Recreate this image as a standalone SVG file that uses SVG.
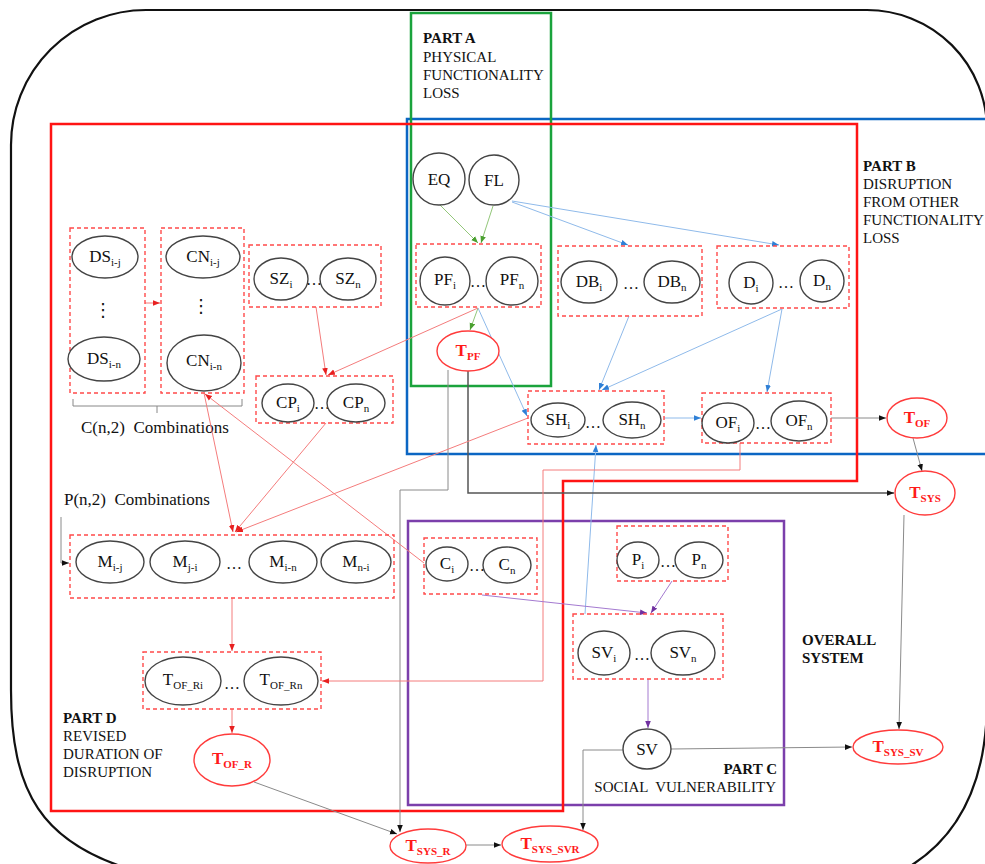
<svg xmlns="http://www.w3.org/2000/svg" width="985" height="864" viewBox="0 0 985 864">
<style>
.frame{fill:none;stroke-width:2.5}
.box{fill:none;stroke:#ff4a4a;stroke-width:1.4;stroke-dasharray:4 3}
.el{fill:#fff;stroke:#444;stroke-width:1.4}
.rel{fill:#fff;stroke:#ff3b3b;stroke-width:1.4}
.lbl{font-family:"Liberation Serif","Times New Roman",serif;font-size:17px;fill:#111;text-anchor:middle}
.rl{font-family:"Liberation Serif","Times New Roman",serif;font-size:17px;fill:#ff1a1a;font-weight:bold;text-anchor:middle}
.sub{font-size:11px}
.dots{font-family:"Liberation Serif",serif;font-size:16px;fill:#111;text-anchor:middle}
.vd{font-family:"DejaVu Sans",sans-serif;font-size:18px;fill:#111;text-anchor:middle}
.part{font-family:"Liberation Serif","Times New Roman",serif;font-size:15px;fill:#111}
.b{font-weight:bold}
.cr{fill:none;stroke:#f47c7c;stroke-width:1}
.cb{fill:none;stroke:#8fbaea;stroke-width:1}
.cg{fill:none;stroke:#93c77a;stroke-width:1}
.cp{fill:none;stroke:#a47ad0;stroke-width:1}
.ck{fill:none;stroke:#8a8a8a;stroke-width:1}
.cd{fill:none;stroke:#555;stroke-width:1.5}
</style>
<defs>
<marker id="aR" viewBox="0 0 10 10" refX="10" refY="5" markerWidth="7" markerHeight="7" orient="auto" markerUnits="userSpaceOnUse"><path d="M0,1 L10,5 L0,9 z" fill="#e82020"/></marker>
<marker id="aB" viewBox="0 0 10 10" refX="10" refY="5" markerWidth="7" markerHeight="7" orient="auto" markerUnits="userSpaceOnUse"><path d="M0,1 L10,5 L0,9 z" fill="#2f80d6"/></marker>
<marker id="aG" viewBox="0 0 10 10" refX="10" refY="5" markerWidth="7" markerHeight="7" orient="auto" markerUnits="userSpaceOnUse"><path d="M0,1 L10,5 L0,9 z" fill="#4aa030"/></marker>
<marker id="aP" viewBox="0 0 10 10" refX="10" refY="5" markerWidth="7" markerHeight="7" orient="auto" markerUnits="userSpaceOnUse"><path d="M0,1 L10,5 L0,9 z" fill="#7030a0"/></marker>
<marker id="aK" viewBox="0 0 10 10" refX="10" refY="5" markerWidth="7" markerHeight="7" orient="auto" markerUnits="userSpaceOnUse"><path d="M0,1 L10,5 L0,9 z" fill="#111"/></marker>
</defs>
<rect width="985" height="864" fill="#fff"/>

<!-- outer overall system frame -->
<path id="outer" d="M11,690 L11,145 A135,135 0 0 1 146,10 L867,10 A120,120 0 0 1 987,130 L987,700 C987,780 960,840 900,872 L140,872 C40,845 11,790 11,690 Z" fill="none" stroke="#111" stroke-width="2.2"/>

<!-- part frames -->
<g id="frames">
<rect class="frame" x="407" y="119" width="600" height="335" stroke="#0b66c3"/>
<rect class="frame" x="411" y="13" width="140" height="373" stroke="#1aa33c"/>
<rect class="frame" x="408" y="521" width="376" height="284" stroke="#7b3fab"/>
<polygon class="frame" points="51,124 857,124 857,481 563,481 563,811 51,811" stroke="#ff1414"/>
</g>

<!-- part texts -->
<g id="partA">
<text class="part b" x="423" y="43">PART A</text>
<text class="part" x="423" y="62">PHYSICAL</text>
<text class="part" x="423" y="80">FUNCTIONALITY</text>
<text class="part" x="423" y="98">LOSS</text>
</g>
<g id="partB">
<text class="part b" x="863" y="171">PART B</text>
<text class="part" x="863" y="189">DISRUPTION</text>
<text class="part" x="863" y="207">FROM OTHER</text>
<text class="part" x="863" y="225">FUNCTIONALITY</text>
<text class="part" x="863" y="243">LOSS</text>
</g>
<g id="partC">
<text class="part b" x="777" y="774" text-anchor="end">PART C</text>
<text class="part" x="776" y="792" text-anchor="end" xml:space="preserve">SOCIAL  VULNERABILITY</text>
</g>
<g id="partD">
<text class="part b" x="63" y="723">PART D</text>
<text class="part" x="63" y="741">REVISED</text>
<text class="part" x="63" y="759">DURATION OF</text>
<text class="part" x="63" y="777">DISRUPTION</text>
</g>
<g id="overall">
<text class="part b" x="802" y="645">OVERALL</text>
<text class="part b" x="802" y="663">SYSTEM</text>
</g>
<g id="combC">
<path d="M73,399 L73,406 L157,406 L157,413 M157,406 L242,406 L242,399" fill="none" stroke="#888" stroke-width="1"/>
<text x="81" y="433" font-family="Liberation Serif, serif" font-size="17" fill="#111" xml:space="preserve">C(n,2)  Combinations</text>
</g>
<g id="combP">
<text x="64" y="505" font-family="Liberation Serif, serif" font-size="17" fill="#111" xml:space="preserve">P(n,2)  Combinations</text>
</g>

<!-- connectors -->
<g id="connectors">
<path class="cg" d="M440,205 L478,243" marker-end="url(#aG)"/>
<path class="cg" d="M493,206 L481,243" marker-end="url(#aG)"/>
<path class="cg" d="M478,308 L470,330" marker-end="url(#aG)"/>

<path class="cb" d="M512,202 L628,245" marker-end="url(#aB)"/>
<path class="cb" d="M512,201 L779,245" marker-end="url(#aB)"/>
<path class="cb" d="M478,308 L527,416" marker-end="url(#aB)"/>
<path class="cb" d="M629,316 L599,390" marker-end="url(#aB)"/>
<path class="cb" d="M782,309 L602,390" marker-end="url(#aB)"/>
<path class="cb" d="M782,309 L767,392" marker-end="url(#aB)"/>
<path class="cb" d="M664,418 L701,418" marker-end="url(#aB)"/>
<path class="cb" d="M585,614 L596,445" marker-end="url(#aB)"/>

<path class="ck" d="M831,418 L886,418" marker-end="url(#aK)"/>
<path class="ck" d="M913,438 L922,471" marker-end="url(#aK)"/>
<path class="cd" d="M468,371 L468,493 L894,493" marker-end="url(#aK)"/>
<path class="ck" d="M448,370 L448,490 L400,490 L400,832" marker-end="url(#aK)"/>
<path class="ck" d="M904,515 L899,729" marker-end="url(#aK)"/>
<path class="ck" d="M671,749 L852,747" marker-end="url(#aK)"/>
<path class="ck" d="M623,750 L583,750 L583,830" marker-end="url(#aK)"/>
<path class="ck" d="M254,782 L397,834" marker-end="url(#aK)"/>
<path class="ck" d="M466,845 L501,845" marker-end="url(#aK)"/>
<path class="ck" d="M61,517 L61,563 L69,563" marker-end="url(#aK)"/>

<path class="cr" d="M145,303 L160,303" marker-end="url(#aR)"/>
<path class="cr" d="M316,307 L326,375" marker-end="url(#aR)"/>
<path class="cr" d="M478,308 L328,375" marker-end="url(#aR)"/>
<path class="cr" d="M326,423 L235,532" marker-end="url(#aR)"/>
<path class="cr" d="M424,563 L205,394" marker-end="url(#aR)"/>
<path class="cr" d="M204,393 L233,532" marker-end="url(#aR)"/>
<path class="cr" d="M528,418 L236,532" marker-end="url(#aR)"/>
<path class="cr" d="M232,598 L232,651" marker-end="url(#aR)"/>
<path class="cr" d="M232,709 L232,733" marker-end="url(#aR)"/>
<path class="cr" d="M740,443 L740,470 L543,470 L543,681 L322,681" marker-end="url(#aR)"/>

<path class="cp" d="M482,595 L647,613" marker-end="url(#aP)"/>
<path class="cp" d="M672,581 L651,613" marker-end="url(#aP)"/>
<path class="cp" d="M648,679 L648,728" marker-end="url(#aP)"/>
</g>

<!-- nodes -->
<g id="nEQ"><circle class="el" cx="439" cy="179" r="26"/><text class="lbl" x="439" y="185">EQ</text></g>
<g id="nFL"><circle class="el" cx="494" cy="180" r="25"/><text class="lbl" x="494" y="186">FL</text></g>

<g id="gPF"><rect class="box" x="416" y="244" width="125" height="63"/>
<ellipse class="el" cx="445" cy="281" rx="25" ry="24"/><text class="lbl" x="445" y="285">PF<tspan class="sub" dy="4">i</tspan></text>
<text class="dots" x="478" y="287">…</text>
<ellipse class="el" cx="512" cy="281" rx="26" ry="24"/><text class="lbl" x="512" y="285">PF<tspan class="sub" dy="4">n</tspan></text></g>

<g id="nTPF"><ellipse class="rel" cx="468" cy="351" rx="31" ry="20"/><text class="rl" x="468" y="356">T<tspan class="sub" dy="4">PF</tspan></text></g>

<g id="gDB"><rect class="box" x="558" y="246" width="144" height="70"/>
<ellipse class="el" cx="589" cy="282" rx="28" ry="21"/><text class="lbl" x="589" y="287">DB<tspan class="sub" dy="4">i</tspan></text>
<text class="dots" x="631" y="289">…</text>
<ellipse class="el" cx="672" cy="282" rx="28" ry="21"/><text class="lbl" x="672" y="287">DB<tspan class="sub" dy="4">n</tspan></text></g>

<g id="gD"><rect class="box" x="717" y="246" width="132" height="62"/>
<ellipse class="el" cx="751" cy="283" rx="22" ry="21"/><text class="lbl" x="751" y="288">D<tspan class="sub" dy="4">i</tspan></text>
<text class="dots" x="786" y="288">…</text>
<ellipse class="el" cx="822" cy="281" rx="22" ry="21"/><text class="lbl" x="822" y="286">D<tspan class="sub" dy="4">n</tspan></text></g>

<g id="gSH"><rect class="box" x="528" y="391" width="136" height="53"/>
<ellipse class="el" cx="558" cy="420" rx="27" ry="17"/><text class="lbl" x="558" y="425">SH<tspan class="sub" dy="4">i</tspan></text>
<text class="dots" x="593" y="428">…</text>
<ellipse class="el" cx="632" cy="420" rx="29" ry="18"/><text class="lbl" x="632" y="425">SH<tspan class="sub" dy="4">n</tspan></text></g>

<g id="gOF"><rect class="box" x="702" y="393" width="129" height="50"/>
<ellipse class="el" cx="728" cy="423" rx="26" ry="20"/><text class="lbl" x="728" y="428">OF<tspan class="sub" dy="4">i</tspan></text>
<text class="dots" x="763" y="429">…</text>
<ellipse class="el" cx="799" cy="421" rx="28" ry="20"/><text class="lbl" x="799" y="426">OF<tspan class="sub" dy="4">n</tspan></text></g>

<g id="nTOF"><ellipse class="rel" cx="917" cy="418" rx="30" ry="20"/><text class="rl" x="917" y="423">T<tspan class="sub" dy="4">OF</tspan></text></g>
<g id="nTSYS"><ellipse class="rel" cx="925" cy="493" rx="30" ry="22"/><text class="rl" x="925" y="498">T<tspan class="sub" dy="4">SYS</tspan></text></g>
<g id="nTSYSSV"><ellipse class="rel" cx="898" cy="747" rx="45" ry="17"/><text class="rl" x="898" y="752">T<tspan class="sub" dy="4">SYS_SV</tspan></text></g>

<g id="gDS"><rect class="box" x="70" y="228" width="75" height="165"/>
<ellipse class="el" cx="105" cy="257" rx="33" ry="21"/><text class="lbl" x="105" y="262">DS<tspan class="sub" dy="4">i-j</tspan></text>
<text class="vd" x="103" y="316">⋮</text>
<ellipse class="el" cx="104" cy="359" rx="36" ry="22"/><text class="lbl" x="104" y="364">DS<tspan class="sub" dy="4">i-n</tspan></text></g>

<g id="gCN"><rect class="box" x="161" y="228" width="83" height="165"/>
<ellipse class="el" cx="203" cy="257" rx="37" ry="21"/><text class="lbl" x="203" y="262">CN<tspan class="sub" dy="4">i-j</tspan></text>
<text class="vd" x="201" y="312">⋮</text>
<ellipse class="el" cx="204" cy="363" rx="37" ry="28"/><text class="lbl" x="204" y="366">CN<tspan class="sub" dy="4">i-n</tspan></text></g>

<g id="gSZ"><rect class="box" x="249" y="245" width="132" height="62"/>
<ellipse class="el" cx="281" cy="279" rx="27" ry="21"/><text class="lbl" x="281" y="284">SZ<tspan class="sub" dy="4">i</tspan></text>
<text class="dots" x="314" y="285">…</text>
<ellipse class="el" cx="348" cy="279" rx="28" ry="21"/><text class="lbl" x="348" y="284">SZ<tspan class="sub" dy="4">n</tspan></text></g>

<g id="gCP"><rect class="box" x="256" y="376" width="137" height="47"/>
<ellipse class="el" cx="288" cy="403" rx="26" ry="19"/><text class="lbl" x="288" y="408">CP<tspan class="sub" dy="4">i</tspan></text>
<text class="dots" x="322" y="409">…</text>
<ellipse class="el" cx="356" cy="403" rx="29" ry="19"/><text class="lbl" x="356" y="408">CP<tspan class="sub" dy="4">n</tspan></text></g>

<g id="gM"><rect class="box" x="70" y="535" width="324" height="63"/>
<ellipse class="el" cx="110" cy="562" rx="34" ry="21"/><text class="lbl" x="110" y="567">M<tspan class="sub" dy="4">i-j</tspan></text>
<ellipse class="el" cx="185" cy="562" rx="35" ry="21"/><text class="lbl" x="185" y="567">M<tspan class="sub" dy="4">j-i</tspan></text>
<text class="dots" x="234" y="569">…</text>
<ellipse class="el" cx="283" cy="562" rx="34" ry="21"/><text class="lbl" x="283" y="567">M<tspan class="sub" dy="4">i-n</tspan></text>
<ellipse class="el" cx="356" cy="562" rx="35" ry="21"/><text class="lbl" x="356" y="567">M<tspan class="sub" dy="4">n-i</tspan></text></g>

<g id="gTOFR"><rect class="box" x="143" y="652" width="178" height="57"/>
<ellipse class="el" cx="183" cy="681" rx="38" ry="24"/><text class="lbl" x="183" y="685">T<tspan class="sub" dy="4">OF_Ri</tspan></text>
<text class="dots" x="232" y="689">…</text>
<ellipse class="el" cx="281" cy="681" rx="37" ry="24"/><text class="lbl" x="281" y="685">T<tspan class="sub" dy="4">OF_Rn</tspan></text></g>

<g id="nTOFR"><ellipse class="rel" cx="232" cy="760" rx="38" ry="26"/><text class="rl" x="232" y="764">T<tspan class="sub" dy="4">OF_R</tspan></text></g>

<g id="gC"><rect class="box" x="424" y="538" width="113" height="56"/>
<ellipse class="el" cx="447" cy="564" rx="21" ry="17"/><text class="lbl" x="447" y="569">C<tspan class="sub" dy="4">i</tspan></text>
<text class="dots" x="477" y="571">…</text>
<ellipse class="el" cx="507" cy="565" rx="24" ry="18"/><text class="lbl" x="507" y="570">C<tspan class="sub" dy="4">n</tspan></text></g>

<g id="gP"><rect class="box" x="617" y="526" width="111" height="55"/>
<ellipse class="el" cx="638" cy="560" rx="21" ry="18"/><text class="lbl" x="638" y="565">P<tspan class="sub" dy="4">i</tspan></text>
<text class="dots" x="668" y="567">…</text>
<ellipse class="el" cx="699" cy="560" rx="24" ry="18"/><text class="lbl" x="699" y="565">P<tspan class="sub" dy="4">n</tspan></text></g>

<g id="gSV"><rect class="box" x="573" y="614" width="150" height="65"/>
<ellipse class="el" cx="604" cy="653" rx="26" ry="22"/><text class="lbl" x="604" y="658">SV<tspan class="sub" dy="4">i</tspan></text>
<text class="dots" x="642" y="660">…</text>
<ellipse class="el" cx="683" cy="653" rx="32" ry="22"/><text class="lbl" x="683" y="658">SV<tspan class="sub" dy="4">n</tspan></text></g>

<g id="nSV"><ellipse class="el" cx="647" cy="749" rx="24" ry="20"/><text class="lbl" x="647" y="755">SV</text></g>
<g id="nTSYSR"><ellipse class="rel" cx="428" cy="846" rx="38" ry="17"/><text class="rl" x="428" y="851">T<tspan class="sub" dy="4">SYS_R</tspan></text></g>
<g id="nTSYSSVR"><ellipse class="rel" cx="550" cy="844" rx="48" ry="18"/><text class="rl" x="550" y="849">T<tspan class="sub" dy="4">SYS_SVR</tspan></text></g>
</svg>
